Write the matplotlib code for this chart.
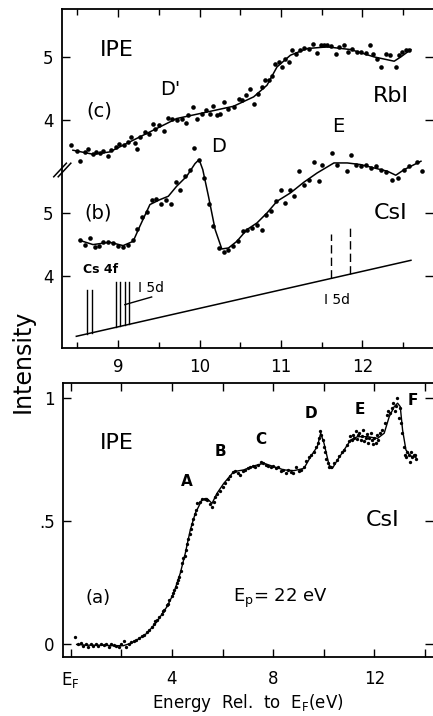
import numpy as np
import matplotlib
matplotlib.use("Agg")
import matplotlib.pyplot as plt

# ---- panel (c): RbI, top curve (offset onto the CsI axis) ----
rbi_offset = 2.463
rbi_pts_e = [8.425, 8.527, 8.495, 8.589, 8.630, 8.692, 8.733, 8.774, 8.815, 8.877,
             8.918, 8.971, 9.013, 9.070, 9.124, 9.156, 9.206, 9.234, 9.267, 9.329,
             9.382, 9.432, 9.452, 9.506, 9.563, 9.617, 9.666, 9.719, 9.781, 9.830,
             9.863, 9.925, 9.974, 10.028, 10.081, 10.130, 10.171, 10.221, 10.254, 10.303,
             10.356, 10.418, 10.480, 10.521, 10.570, 10.624, 10.665, 10.714, 10.768, 10.809,
             10.850, 10.891, 10.932, 10.973, 11.014, 11.055, 11.096, 11.137, 11.191, 11.240,
             11.289, 11.343, 11.392, 11.445, 11.487, 11.528, 11.569, 11.610, 11.672, 11.713,
             11.775, 11.824, 11.877, 11.930, 11.980, 12.042, 12.095, 12.136, 12.185, 12.234,
             12.288, 12.341, 12.411, 12.452, 12.493, 12.534, 12.575]
rbi_pts_i = [3.606, 3.358, 3.516, 3.500, 3.542, 3.474, 3.500, 3.484, 3.516, 3.432,
             3.527, 3.579, 3.632, 3.606, 3.658, 3.737, 3.648, 3.553, 3.737, 3.816,
             3.790, 3.948, 3.869, 3.921, 3.827, 4.042, 4.027, 4.000, 4.027, 3.963,
             4.090, 4.211, 4.027, 4.106, 4.158, 4.106, 4.221, 4.079, 4.106, 4.290,
             4.185, 4.211, 4.342, 4.316, 4.395, 4.500, 4.263, 4.421, 4.527, 4.632,
             4.632, 4.695, 4.895, 4.921, 4.842, 4.974, 4.921, 5.106, 5.053, 5.106,
             5.148, 5.132, 5.200, 5.069, 5.185, 5.195, 5.185, 5.179, 5.053, 5.158,
             5.185, 5.079, 5.132, 5.079, 5.079, 5.063, 5.185, 5.053, 4.974, 4.842,
             5.053, 5.026, 4.842, 5.026, 5.079, 5.106, 5.116]
rbi_fit_e = [8.445, 8.692, 8.897, 9.185, 9.473, 9.719, 10.007, 10.418, 10.665, 10.829,
             10.952, 11.117, 11.322, 11.569, 11.857, 12.144, 12.391, 12.473, 12.596]
rbi_fit_i = [3.527, 3.463, 3.500, 3.685, 3.869, 4.027, 4.106, 4.221, 4.369, 4.553,
             4.842, 5.027, 5.132, 5.158, 5.116, 5.000, 4.932, 5.000, 5.116]

# ---- panel (b): CsI, top panel ----
csi_pts_e = [8.527, 8.589, 8.651, 8.712, 8.762, 8.815, 8.877, 8.938, 9.000, 9.062,
             9.124, 9.185, 9.234, 9.296, 9.349, 9.411, 9.460, 9.522, 9.584, 9.645,
             9.707, 9.760, 9.822, 9.884, 9.937, 9.999, 10.056, 10.118, 10.171, 10.241,
             10.295, 10.348, 10.406, 10.467, 10.529, 10.583, 10.644, 10.706, 10.768, 10.817,
             10.879, 10.940, 11.002, 11.055, 11.109, 11.166, 11.220, 11.281, 11.343, 11.405,
             11.466, 11.507, 11.631, 11.692, 11.807, 11.857, 11.918, 11.980, 12.042, 12.103,
             12.165, 12.227, 12.288, 12.370, 12.440, 12.514, 12.576, 12.670, 12.728]
csi_pts_i = [4.568, 4.500, 4.605, 4.463, 4.484, 4.537, 4.537, 4.526, 4.484, 4.463,
             4.500, 4.568, 4.747, 4.937, 5.021, 5.210, 5.221, 5.142, 5.210, 5.147,
             5.484, 5.368, 5.579, 5.674, 6.026, 5.842, 5.553, 5.147, 4.789, 4.447,
             4.379, 4.410, 4.474, 4.552, 4.710, 4.737, 4.763, 4.816, 4.737, 4.973,
             5.026, 5.184, 5.358, 5.158, 5.368, 5.263, 5.658, 5.447, 5.526, 5.800,
             5.500, 5.763, 5.947, 5.763, 5.658, 5.910, 5.763, 5.737, 5.763, 5.710,
             5.737, 5.684, 5.642, 5.526, 5.552, 5.684, 5.737, 5.800, 5.658]
csi_fit_e = [8.527, 8.692, 8.897, 9.062, 9.185, 9.267, 9.391, 9.514, 9.617, 9.719,
             9.843, 9.945, 9.995, 10.040, 10.110, 10.192, 10.274, 10.356, 10.459, 10.583,
             10.706, 10.829, 10.952, 11.117, 11.281, 11.445, 11.651, 11.815, 11.980, 12.144,
             12.309, 12.411, 12.514, 12.720]
csi_fit_i = [4.568, 4.500, 4.537, 4.484, 4.552, 4.789, 5.132, 5.210, 5.263, 5.421,
             5.579, 5.779, 5.842, 5.684, 5.263, 4.737, 4.431, 4.447, 4.552, 4.737,
             4.842, 5.000, 5.184, 5.316, 5.484, 5.631, 5.789, 5.789, 5.763, 5.710,
             5.658, 5.595, 5.684, 5.816]

# core-level excitation thresholds drawn above a sloping line
base_e = [8.487, 12.597]
base_i = [3.052, 4.252]
cs4f_e = [8.618, 8.676]
cs4f_top = 3.789
i5d_low_e = [8.972, 9.021, 9.083, 9.136]
i5d_low_top = 3.915
i5d_high_e = [11.618, 11.848]
i5d_high_top = [4.668, 4.773]

# ---- panel (a): CsI wide range, bottom ----
a_fit_e = [0.238, 0.634, 1.162, 1.690, 2.086, 2.350, 2.614, 3.010, 3.406, 3.802,
           4.066, 4.330, 4.528, 4.726, 4.924, 5.056, 5.188, 5.386, 5.584, 5.782,
           6.046, 6.442, 6.838, 7.234, 7.630, 8.026, 8.422, 8.818, 9.214, 9.479,
           9.743, 9.875, 10.007, 10.205, 10.337, 10.535, 10.799, 11.063, 11.327, 11.723,
           12.119, 12.383, 12.581, 12.779, 12.911, 13.017, 13.109, 13.241, 13.413, 13.637]
a_fit_i = [0.000, -0.003, -0.003, -0.005, -0.005, 0.004, 0.018, 0.045, 0.092, 0.153,
           0.207, 0.289, 0.370, 0.465, 0.533, 0.560, 0.589, 0.593, 0.573, 0.614,
           0.654, 0.702, 0.709, 0.725, 0.736, 0.722, 0.709, 0.706, 0.715, 0.763,
           0.804, 0.858, 0.817, 0.729, 0.715, 0.749, 0.790, 0.831, 0.844, 0.844,
           0.837, 0.858, 0.925, 0.966, 0.980, 0.966, 0.871, 0.790, 0.766, 0.760]
a_pts_e = [0.17, 0.3, 0.4, 0.5, 0.6, 0.7, 0.8, 0.9, 1.0, 1.1, 1.2, 1.3, 1.4, 1.5, 1.6,
           1.7, 1.8, 1.9, 2.0, 2.1, 2.2, 2.3, 2.4, 2.5, 2.6, 2.7, 2.8, 2.9, 3.0, 3.1,
           3.2, 3.3, 3.35, 3.4, 3.5, 3.6, 3.65, 3.7, 3.8, 3.85, 3.9, 4.0, 4.05, 4.1, 4.15,
           4.2, 4.25, 4.3, 4.35, 4.4, 4.45, 4.5, 4.55, 4.6, 4.65, 4.7, 4.75, 4.8, 4.85, 4.9,
           4.95, 5.0, 5.1, 5.2, 5.3, 5.4, 5.5, 5.6, 5.65, 5.7, 5.8, 5.9, 6.0, 6.1, 6.2,
           6.3, 6.4, 6.5, 6.6, 6.7, 6.8, 6.9, 7.0, 7.1, 7.2, 7.3, 7.4, 7.5, 7.6, 7.7,
           7.8, 7.9, 8.0, 8.1, 8.2, 8.3, 8.4, 8.5, 8.6, 8.7, 8.8, 8.9, 9.0, 9.1, 9.2,
           9.3, 9.4, 9.5, 9.6, 9.7, 9.75, 9.8, 9.85, 9.9, 9.95, 10.0, 10.05, 10.1, 10.15, 10.2,
           10.3, 10.4, 10.5, 10.6, 10.7, 10.8, 10.9, 11.0, 11.05, 11.1, 11.15, 11.2, 11.25, 11.3, 11.35,
           11.4, 11.45, 11.5, 11.55, 11.6, 11.65, 11.7, 11.75, 11.8, 11.85, 11.9, 11.95, 12.0, 12.05, 12.1,
           12.15, 12.2, 12.3, 12.4, 12.5, 12.55, 12.6, 12.7, 12.75, 12.8, 12.85, 12.9, 12.95, 13.0, 13.05,
           13.1, 13.15, 13.2, 13.25, 13.3, 13.35, 13.4, 13.45, 13.5, 13.55, 13.6, 13.65]
a_pts_i = [0.03, 0.0, 0.005, -0.008, 0.0, -0.01, 0.003, -0.005, 0.0, -0.006, 0.002, -0.004, 0.0, -0.01, 0.0,
           -0.004, -0.008, -0.012, 0.0, 0.012, -0.01, 0.0, 0.008, 0.015, 0.02, 0.025, 0.035, 0.04, 0.05, 0.06,
           0.07, 0.085, 0.095, 0.1, 0.11, 0.125, 0.135, 0.14, 0.16, 0.165, 0.18, 0.195, 0.21, 0.22, 0.235,
           0.25, 0.26, 0.275, 0.3, 0.33, 0.35, 0.36, 0.385, 0.41, 0.43, 0.45, 0.47, 0.49, 0.51, 0.53,
           0.545, 0.575, 0.58, 0.59, 0.59, 0.585, 0.57, 0.56, 0.58, 0.6, 0.61, 0.625, 0.64, 0.655, 0.67,
           0.685, 0.7, 0.705, 0.695, 0.69, 0.705, 0.71, 0.715, 0.72, 0.725, 0.72, 0.73, 0.74, 0.735, 0.73,
           0.725, 0.72, 0.725, 0.715, 0.72, 0.705, 0.71, 0.695, 0.71, 0.7, 0.695, 0.72, 0.705, 0.71, 0.72,
           0.745, 0.76, 0.77, 0.78, 0.8, 0.82, 0.84, 0.865, 0.85, 0.83, 0.8, 0.78, 0.755, 0.735, 0.72,
           0.72, 0.735, 0.75, 0.765, 0.78, 0.79, 0.81, 0.825, 0.845, 0.83, 0.85, 0.84, 0.865, 0.835, 0.85,
           0.86, 0.83, 0.845, 0.87, 0.825, 0.84, 0.855, 0.82, 0.84, 0.86, 0.83, 0.815, 0.84, 0.82, 0.85,
           0.83, 0.86, 0.87, 0.9, 0.93, 0.95, 0.94, 0.96, 0.98, 0.95, 0.97, 1.0, 0.92, 0.96, 0.9,
           0.86, 0.8, 0.77, 0.76, 0.78, 0.77, 0.74, 0.78, 0.76, 0.77, 0.77, 0.755]

plt.rcParams["font.family"] = ["DejaVu Sans"]
plt.rcParams["mathtext.fontset"] = "dejavusans"

fig = plt.figure(figsize=(4.33, 7.16), dpi=100)
ax_top = fig.add_axes([0.143, 0.514, 0.857, 0.4735])
ax_bot = fig.add_axes([0.1455, 0.0824, 0.8545, 0.3827])

for ax in (ax_top, ax_bot):
    for sp in ax.spines.values():
        sp.set_linewidth(1.3)
    ax.spines["right"].set_visible(False)
    ax.tick_params(which="both", direction="in", top=True, right=True,
                   width=1.0, labelsize=12, pad=6)
    ax.tick_params(which="major", length=6)
    ax.tick_params(which="minor", length=4)

# ---------- top panel ----------
ax = ax_top
ax.plot(rbi_fit_e, np.array(rbi_fit_i) + rbi_offset, color="black", lw=1.1)
ax.plot(rbi_pts_e, np.array(rbi_pts_i) + rbi_offset, "o", color="black", ms=3.3, mew=0)
ax.plot(csi_fit_e, csi_fit_i, color="black", lw=1.1)
ax.plot(csi_pts_e, csi_pts_i, "o", color="black", ms=3.3, mew=0)

ax.plot(base_e, base_i, color="black", lw=1.1)
for e in cs4f_e:
    ax.plot([e, e], [np.interp(e, base_e, base_i), cs4f_top], color="black", lw=1.0)
for e in i5d_low_e:
    ax.plot([e, e], [np.interp(e, base_e, base_i), i5d_low_top], color="black", lw=1.0)
for e, top in zip(i5d_high_e, i5d_high_top):
    ax.plot([e, e], [np.interp(e, base_e, base_i), top], color="black", lw=1.0,
            dashes=(6, 3))
ax.plot([9.083, 9.412], [3.552, 3.673], color="black", lw=1.0)

ax.set_xlim(8.31, 12.868)
ax.set_ylim(2.868, 8.22)
ax.set_xticks([9, 10, 11, 12])
ax.set_xticks(np.arange(8.5, 12.6, 0.5), minor=True)
ax.set_yticks([4, 5, 4 + rbi_offset, 5 + rbi_offset])
ax.set_yticklabels(["4", "5", "4", "5"])
ax.tick_params(axis="y", labelright=False)
ax.tick_params(axis="x", pad=7)

ax.text(8.988, 7.579, "IPE", fontsize=16, ha="center", va="center")
ax.text(9.637, 6.947, "D'", fontsize=14, ha="center", va="center")
ax.text(8.774, 6.605, "(c)", fontsize=14, ha="center", va="center")
ax.text(12.35, 6.842, "RbI", fontsize=16, ha="center", va="center")
ax.text(11.71, 6.368, "E", fontsize=14, ha="center", va="center")
ax.text(10.233, 6.052, "D", fontsize=14, ha="center", va="center")
ax.text(8.754, 5.0, "(b)", fontsize=14, ha="center", va="center")
ax.text(12.35, 5.0, "CsI", fontsize=16, ha="center", va="center")
ax.text(8.786, 4.105, "Cs 4f", fontsize=9, fontweight="semibold", ha="center", va="center")
ax.text(9.41, 3.82, "I 5d", fontsize=10, ha="center", va="center")
ax.text(11.69, 3.631, "I 5d", fontsize=10, ha="center", va="center")

# axis break mark "//" on the left spine
for dx in (0.0, 0.012):
    ax.plot([-0.022 + dx, 0.012 + dx], [0.505, 0.545], transform=ax.transAxes,
            color="black", lw=1.1, clip_on=False)

# ---------- bottom panel ----------
ax = ax_bot
ax.plot(a_fit_e, a_fit_i, color="black", lw=1.0)
ax.plot(a_pts_e, a_pts_i, "o", color="black", ms=2.4, mew=0)
ax.set_xlim(-0.30, 14.31)
ax.set_ylim(-0.051, 1.062)
ax.set_xticks([0, 2, 4, 6, 8, 10, 12, 14])
ax.set_xticklabels(["E$_\\mathrm{F}$", "", "4", "", "8", "", "12", ""])
ax.set_yticks([0, 0.5, 1])
ax.set_yticklabels(["0", ".5", "1"])
ax.tick_params(axis="y", labelright=False)
ax.tick_params(axis="x", pad=9)

ax.text(1.82, 0.817, "IPE", fontsize=16, ha="center", va="center")
ax.text(4.59, 0.661, "A", fontsize=11, fontweight="bold", ha="center", va="center")
ax.text(5.91, 0.783, "B", fontsize=11, fontweight="bold", ha="center", va="center")
ax.text(7.52, 0.833, "C", fontsize=11, fontweight="bold", ha="center", va="center")
ax.text(9.48, 0.939, "D", fontsize=11, fontweight="bold", ha="center", va="center")
ax.text(11.42, 0.955, "E", fontsize=11, fontweight="bold", ha="center", va="center")
ax.text(13.53, 0.99, "F", fontsize=11, fontweight="bold", ha="center", va="center")
ax.text(12.32, 0.505, "CsI", fontsize=16, ha="center", va="center")
ax.text(1.10, 0.187, "(a)", fontsize=13, ha="center", va="center")
ax.text(8.29, 0.187, "E$_\\mathrm{p}$= 22 eV", fontsize=13, ha="center", va="center")
ax.set_xlabel("Energy  Rel.  to  E$_\\mathrm{F}$(eV)", fontsize=12, labelpad=2)

fig.text(0.053, 0.496, "Intensity", rotation=90, fontsize=17, ha="center", va="center")

fig.savefig("out.png", dpi=100)
